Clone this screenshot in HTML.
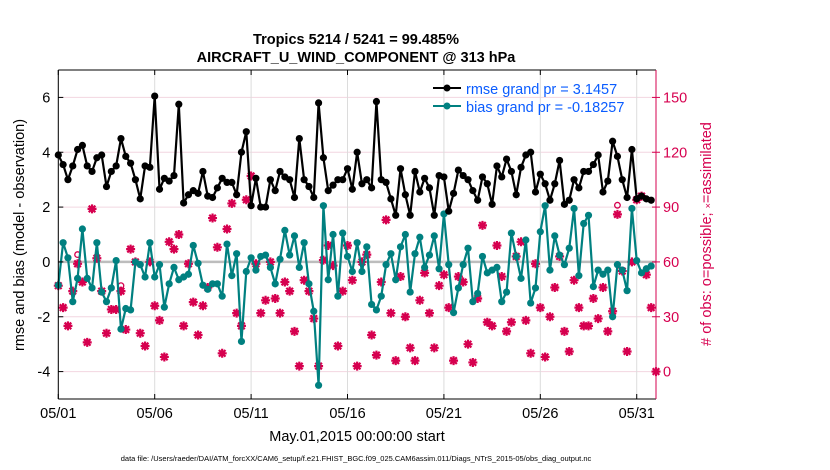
<!DOCTYPE html>
<html><head><meta charset="utf-8"><style>
html,body{margin:0;padding:0;background:#fff;}
svg{display:block;font-family:"Liberation Sans",Arial,sans-serif;}
</style></head><body>
<svg id="chart" width="830" height="470" viewBox="0 0 830 470" xmlns="http://www.w3.org/2000/svg">
<text x="356" y="44" text-anchor="middle" font-size="14.5" font-weight="bold">Tropics 5214 / 5241 = 99.485%</text>
<text x="356" y="62" text-anchor="middle" font-size="14.5" font-weight="bold">AIRCRAFT_U_WIND_COMPONENT @ 313 hPa</text>
<g id="grid"></g>
<g id="marks"></g>
<g id="axes"></g>
<g>
  <line x1="433" y1="88" x2="461" y2="88" stroke="#000" stroke-width="2"/>
  <circle cx="447" cy="88" r="3.5" fill="#000"/>
  <text x="466" y="94" font-size="14.5" fill="#0a5cff">rmse grand pr = 3.1457</text>
  <line x1="433" y1="106" x2="461" y2="106" stroke="#008080" stroke-width="2"/>
  <circle cx="447" cy="106" r="3.5" fill="#008080"/>
  <text x="466" y="112" font-size="14.5" fill="#0a5cff">bias grand pr = -0.18257</text>
</g>
<text transform="translate(24,235) rotate(-90)" text-anchor="middle" font-size="14.5">rmse and bias (model - observation)</text>
<text transform="translate(711,234) rotate(-90)" text-anchor="middle" font-size="14.5" fill="#d6004f"># of obs: o=possible; <tspan font-size="9">×</tspan>=assimilated</text>
<text x="357" y="441" text-anchor="middle" font-size="14.5">May.01,2015 00:00:00 start</text>
<text x="356" y="461" text-anchor="middle" font-size="7.5">data file: /Users/raeder/DAI/ATM_forcXX/CAM6_setup/f.e21.FHIST_BGC.f09_025.CAM6assim.011/Diags_NTrS_2015-05/obs_diag_output.nc</text>
</svg>
<script>
const xTickLabels = ["05/01","05/06","05/11","05/16","05/21","05/26","05/31"];
const xTickDays = [0,5,10,15,20,25,30];
const yTicksLeft = [-4,-2,0,2,4,6];
const yTicksRight = [0,30,60,90,120,150];
const rmse = [3.9,3.55,3.0,3.5,4.1,4.25,3.5,3.3,3.8,3.9,2.75,3.3,3.5,4.5,3.85,3.6,3.0,2.3,3.5,3.45,6.05,2.65,3.05,2.95,3.15,5.75,2.15,2.45,
2.6,2.5,3.3,2.4,2.35,2.7,3.05,2.9,2.9,2.45,4.0,4.75,2.05,3.05,2.0,2.0,3.0,2.6,3.3,3.1,3.0,2.35,4.5,3.0,2.75,2.35,5.8,3.8,2.6,2.8,3.0,
3.0,3.4,2.65,4.0,2.85,3.0,2.7,5.85,3.0,2.9,2.3,1.7,3.4,2.45,1.7,3.3,2.55,3.05,2.7,1.7,3.15,3.1,1.85,2.5,3.35,3.15,3.0,2.6,2.25,3.1,2.85,
2.1,3.5,3.1,3.75,3.3,2.45,3.45,3.9,4.0,2.55,3.2,2.85,2.25,2.85,3.7,2.1,2.25,3.0,2.7,3.3,3.3,3.55,3.9,2.55,2.95,4.4,3.85,3.0,2.35,4.1,2.3,2.4,2.3,2.25];
const bias = [-0.85,0.7,0.15,-1.45,-0.6,1.2,-0.6,-0.95,0.7,-1.1,-1.45,-0.95,0.05,-2.45,-1.7,-1.75,0.0,-0.1,-0.55,0.7,-0.55,-0.1,-1.65,-0.8,-0.2,-0.65,-0.55,-0.45,
0.6,-0.05,-0.85,-1.0,-0.8,-0.8,-1.25,0.65,-0.5,0.3,-2.9,-0.35,0.15,-0.3,0.2,0.25,-0.2,-0.8,0.1,1.15,0.25,0.95,-0.2,0.7,-0.8,-1.8,-4.5,2.05,-0.65,1.0,-1.25,
1.05,0.2,-0.35,0.7,-0.35,0.55,-1.55,-1.75,-1.25,-0.1,0.3,-0.65,0.55,1.0,-1.1,0.3,0.9,-0.2,0.25,0.95,-0.25,1.75,-0.1,-1.85,-0.95,-0.1,0.5,-1.45,-1.15,0.2,-0.4,
-0.3,-0.2,-1.45,-1.1,1.05,0.2,-0.6,0.8,-1.5,-0.95,1.1,2.05,-0.3,0.95,0.25,-0.1,0.5,1.95,-0.5,1.4,1.7,-0.9,-0.3,-0.45,-0.3,-2.0,-0.1,-0.3,-1.05,1.95,0.05,-0.4,-0.25,-0.15];
const nAssim = [47,35,25,44,59,49,16,89,62,44,21,34,34,44,23,67,60,21,14,60,36,28,8,71,67,75,25,59,
38,20,36,46,84,68,10,78,92,32,25,94,107,59,32,39,60,40,32,49,44,22,3,50,44,29,3,61,69,58,14,
44,69,50,3,60,64,20,9,49,83,32,6,52,30,13,6,39,54,32,13,47,53,35,6,52,49,15,5,40,80,27,
25,69,52,22,27,63,71,28,10,59,35,8,30,46,63,22,11,50,35,25,25,40,29,46,22,33,86,55,11,60,94,96,53,35,0];
const possibleIdx = [4,13,116];
const possibleVals = [64,47,91];

const NS="http://www.w3.org/2000/svg";
const L=58.3,R=656,T=70,B=399;
const xs=d=>L+(d/31)*(R-L);
const yl=v=>T+(7-v)/12*(B-T);
const yr=c=>yl((c-60)/15);
const tDay=i=>i*0.25;
function el(tag,attrs,parent){const e=document.createElementNS(NS,tag);for(const k in attrs)e.setAttribute(k,attrs[k]);parent.appendChild(e);return e;}
const grid=document.getElementById('grid'),marks=document.getElementById('marks'),axes=document.getElementById('axes');

yTicksLeft.forEach(v=>{
  const g=el('line',{x1:L,x2:R,y1:yl(v),y2:yl(v),stroke:v===0?'#bdbdbd':'#f2d6e0','stroke-width':v===0?2.5:1},grid);
  
  
  const t=el('text',{x:L-8,y:yl(v)+5,'text-anchor':'end','font-size':14.5},axes);
  t.textContent=v;
  
  
  el('line',{x1:L,x2:L+5,y1:yl(v),y2:yl(v),stroke:'#000'},axes);
});
xTickDays.forEach((d,i)=>{
  const g=el('line',{x1:xs(d),x2:xs(d),y1:T,y2:B,stroke:'#dcdcdc'},grid);
  
  
  el('line',{x1:xs(d),x2:xs(d),y1:B,y2:B-5,stroke:'#000'},axes);
  el('line',{x1:xs(d),x2:xs(d),y1:T,y2:T+5,stroke:'#000'},axes);
  const t=el('text',{x:xs(d),y:B+19,'text-anchor':'middle','font-size':14.5},axes);
  t.textContent=xTickLabels[i];
  
  
});
yTicksRight.forEach(c=>{
  el('line',{x1:R-4,x2:R+4,y1:yr(c),y2:yr(c),stroke:'#d6004f'},axes);
  const t=el('text',{x:R+7,y:yr(c)+5,'font-size':14.5,fill:'#d6004f'},axes);
  t.textContent=c;
  
  
});
el('line',{x1:L,x2:R,y1:T,y2:T,stroke:'#000'},axes);
el('line',{x1:L,x2:R,y1:B,y2:B,stroke:'#000'},axes);
el('line',{x1:L,x2:L,y1:T,y2:B,stroke:'#000'},axes);
el('line',{x1:R,x2:R,y1:T,y2:B,stroke:'#d6004f'},axes);

possibleIdx.forEach((idx,k)=>{
  const c=el('circle',{cx:xs(tDay(idx)),cy:yr(possibleVals[k]),r:2.8,fill:'none',stroke:'#d6004f','stroke-width':1.3},marks);
  
  
});
nAssim.forEach((c,i)=>{
  const x=xs(tDay(i)),y=yr(c);
  const g=el('g',{},marks);
  
  
  el('path',{d:`M${x-4.5} ${y}L${x+4.5} ${y}M${x} ${y-4.5}L${x} ${y+4.5}M${x-3.3} ${y-3.3}L${x+3.3} ${y+3.3}M${x-3.3} ${y+3.3}L${x+3.3} ${y-3.3}`,stroke:'#d6004f','stroke-width':2.2},g);
  el('circle',{cx:x,cy:y,r:2.6,fill:'#d6004f'},g);
});
function series(arr,color,name){
  const p=el('polyline',{points:arr.map((v,i)=>xs(tDay(i))+','+yl(v)).join(' '),fill:'none',stroke:color,'stroke-width':2.2,'stroke-linejoin':'round'},marks);
  
  
  arr.forEach((v,i)=>{
    const c=el('circle',{cx:xs(tDay(i)),cy:yl(v),r:3.6,fill:color},marks);
    
    
  });
}
series(bias,'#008080','bias');
series(rmse,'#000000','rmse');
</script>
</body></html>
